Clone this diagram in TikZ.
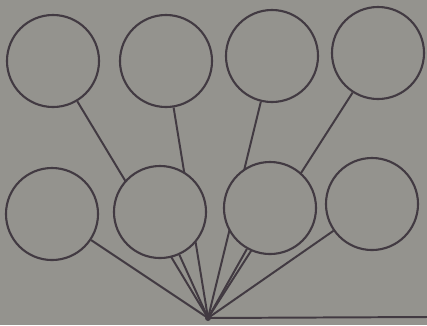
\documentclass[tikz,border=0pt]{standalone}
\usepackage{xcolor}
\usetikzlibrary{backgrounds}
\definecolor{PaperGray}{RGB}{148,147,142}
\definecolor{InkGray}{RGB}{66,58,66}
\tikzset{
  ball/.style={circle, draw=InkGray, fill=PaperGray, line width=1.5pt,
    minimum size=2.3cm, inner sep=0pt},
  stick/.style={draw=InkGray, line width=1.4pt},
}
\begin{document}
\begin{tikzpicture}[x=0.025cm, y=-0.025cm]
  \useasboundingbox (0,0) rectangle (427,325);
  % two rows of circles
  \foreach \n/\x/\y in {t1/53/61, t2/166/61, t3/272/56, t4/378/53,
                        b1/52/214, b2/160/212, b3/270/208, b4/372/204}
    \node[ball] (\n) at (\x,\y) {};
  \coordinate (hub) at (208,318);
  \coordinate (rim) at (427,317);
  % spokes behind the circles
  \begin{scope}[on background layer]
    \fill[PaperGray] (0,0) rectangle (427,325);
    \foreach \n in {t1,t2,t3,t4,b1,b2,b3,b4}
      \draw[stick] (hub) -- (\n);
    \draw[stick] (hub) -- (rim);
    \fill[InkGray] (hub) circle (3);
  \end{scope}
\end{tikzpicture}
\end{document}
